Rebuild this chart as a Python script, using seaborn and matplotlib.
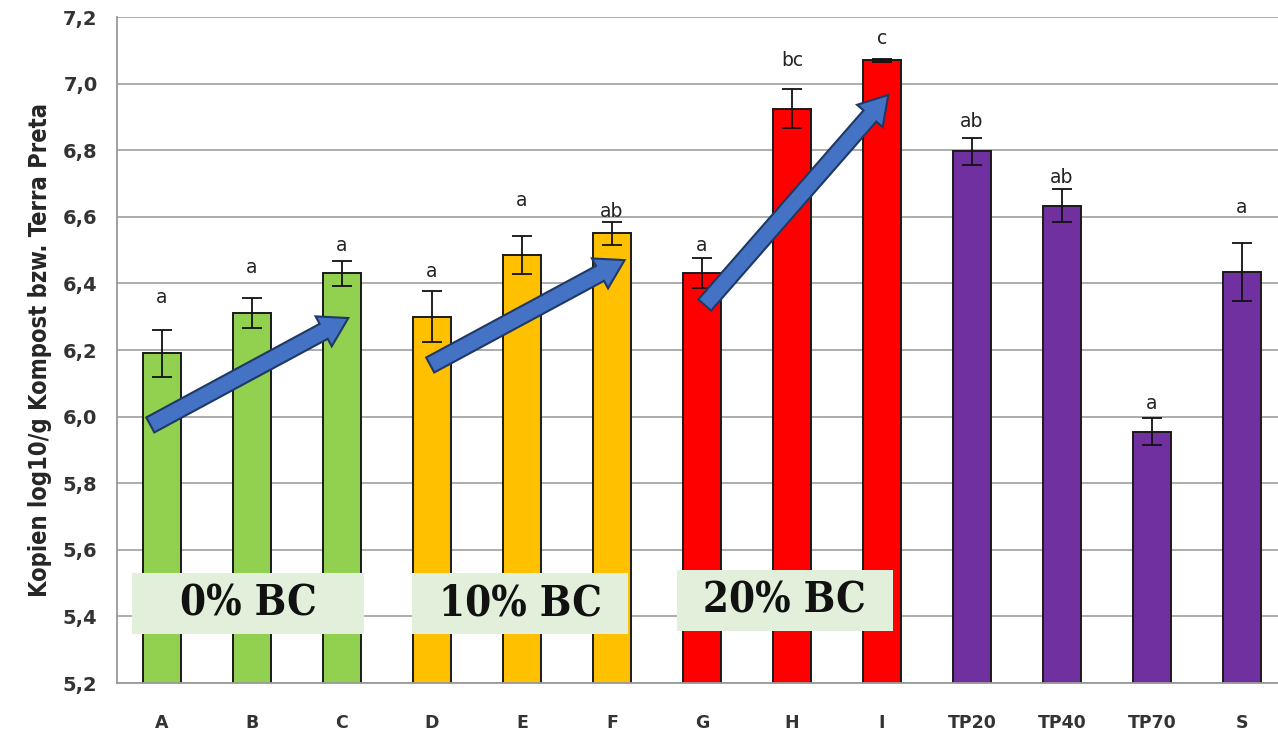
import matplotlib
matplotlib.use("Agg")
import matplotlib.pyplot as plt
from matplotlib.patches import FancyArrow, Rectangle
import seaborn as sns
import pandas as pd

# Treatments, grouped by biochar share
categories = ["A", "B", "C", "D", "E", "F", "G", "H", "I", "TP20", "TP40", "TP70", "S"]
groups = ["0% BC"] * 3 + ["10% BC"] * 3 + ["20% BC"] * 3 + ["TP"] * 4
means = [6.19, 6.31, 6.43, 6.30, 6.485, 6.55, 6.43, 6.925, 7.07, 6.797, 6.633, 5.955, 6.435]
errors = [0.07, 0.045, 0.037, 0.077, 0.058, 0.035, 0.045, 0.058, 0.004, 0.04, 0.05, 0.04, 0.087]
letters = ["a", "a", "a", "a", "a", "ab", "a", "bc", "c", "ab", "ab", "a", "a"]
y_ticks = [5.2, 5.4, 5.6, 5.8, 6.0, 6.2, 6.4, 6.6, 6.8, 7.0, 7.2]

palette = {"0% BC": "#92D050", "10% BC": "#FFC000", "20% BC": "#FF0000", "TP": "#7030A0"}
# vertical gap (pixels) between the top of each error bar and its letter
letter_gap = [33, 31, 16, 20, 35, 10, 13, 29, 20, 16, 12, 15, 35]

df = pd.DataFrame({"cat": categories, "group": groups, "mean": means, "err": errors})

sns.set_style("white")
plt.rcParams["font.family"] = ["DejaVu Sans"]

fig = plt.figure(figsize=(12.78, 7.35), dpi=100)
ax = fig.add_axes([117 / 1278, 1 - 683 / 735, 1170 / 1278, 666 / 735])

sns.barplot(data=df, x="cat", y="mean", hue="group", palette=palette, dodge=False,
            saturation=1, width=0.42, edgecolor="#1a1a1a", linewidth=1.4, legend=False,
            ax=ax, errorbar=None, zorder=2)

xs = list(range(len(categories)))
ax.errorbar(xs, means, yerr=errors, fmt="none", ecolor="#111111", elinewidth=1.3,
            capsize=7, capthick=1.3, zorder=3)

for x, m, e, lab, gap in zip(xs, means, errors, letters, letter_gap):
    ax.annotate(lab, (x, m + e), xytext=(0, gap), textcoords="offset pixels",
                ha="center", va="center", fontsize=13.5, color="#222222")

ax.set_xlim(-0.5, 12.5)
ax.set_ylim(5.2, 7.2)
ax.set_yticks(y_ticks)
ax.set_yticklabels([f"{t:.1f}".replace(".", ",") for t in y_ticks],
                   fontsize=14, fontweight="bold", color="#333333")
ax.yaxis.grid(True, color="#a6a6a6", linewidth=1.3, zorder=0)
ax.set_axisbelow(True)

ax.set_xticks(xs)
ax.set_xticklabels(categories, fontsize=12.5, fontweight="bold", color="#333333")
ax.tick_params(axis="x", which="major", length=0, pad=22)
ax.set_xticks([x + 0.5 for x in xs[:-1]], minor=True)
ax.tick_params(axis="x", which="minor", length=8, width=1.2, color="#999999", direction="out")
ax.tick_params(axis="y", length=8, width=1.2, color="#999999", direction="out", pad=6)

for side in ["top", "right"]:
    ax.spines[side].set_visible(False)
for side in ["left", "bottom"]:
    ax.spines[side].set_color("#999999")
    ax.spines[side].set_linewidth(1.3)

ax.set_xlabel("")
ax.set_ylabel("Kopien log10/g Kompost bzw. Terra Preta", fontsize=17, fontweight="bold",
              fontstretch="condensed", labelpad=8)

# trend arrows within each biochar level
arrow_spans = [((-0.13, 5.975), (2.07, 6.296)),
               ((2.98, 6.155), (5.14, 6.47)),
               ((6.03, 6.335), (8.07, 6.966))]
trans = ax.transData
for (x0, y0), (x1, y1) in arrow_spans:
    p0 = trans.transform((x0, y0))
    p1 = trans.transform((x1, y1))
    arr = FancyArrow(p0[0], p0[1], p1[0] - p0[0], p1[1] - p0[1], width=17,
                     head_width=34, head_length=28, length_includes_head=True,
                     facecolor="#4472C4", edgecolor="#1F3864", linewidth=1.5,
                     transform=None, zorder=5)
    fig.artists.append(arr)

# group captions
caption_boxes = [("0% BC", -0.33, 2.24, 5.347, 5.530),
                 ("10% BC", 2.78, 5.18, 5.347, 5.530),
                 ("20% BC", 5.72, 8.12, 5.356, 5.539)]
for text, x0, x1, y0, y1 in caption_boxes:
    ax.add_patch(Rectangle((x0, y0), x1 - x0, y1 - y0, facecolor="#E2EFDA",
                           edgecolor="none", zorder=6))
    ax.text((x0 + x1) / 2, (y0 + y1) / 2, text, ha="center", va="center",
            fontsize=30, fontweight="bold", family="DejaVu Serif", fontstretch="condensed",
            color="#111111", zorder=7)

fig.savefig("out.png", dpi=100)
